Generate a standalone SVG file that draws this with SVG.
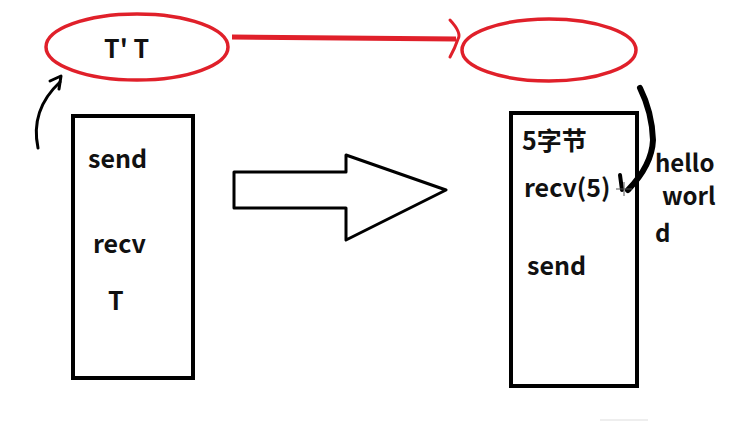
<svg xmlns="http://www.w3.org/2000/svg" width="738" height="422" viewBox="0 0 738 422">
<style>
text{font-family:"Noto Sans CJK SC","Noto Sans",sans-serif;font-weight:bold;font-size:25px;fill:#111}
.red{fill:none;stroke:#e0202a;stroke-width:3.5}
.box{fill:#fff;stroke:#000;stroke-width:4}
.ink{fill:none;stroke:#000;stroke-linecap:round;stroke-linejoin:round}
</style>
<rect width="738" height="422" fill="#fff"/>
<g id="bufferLeft">
<ellipse class="red" cx="137" cy="47" rx="91" ry="33"/>
<text x="104" y="58">T' T</text>
</g>
<g id="bufferRight">
<ellipse class="red" cx="549" cy="50" rx="87" ry="31"/>
</g>
<g id="clientLeft">
<rect class="box" x="73" y="116" width="120" height="262"/>
<text x="88" y="168">send</text>
<text x="93" y="253">recv</text>
<text x="108" y="310">T</text>
</g>
<g id="clientRight">
<rect class="box" x="511" y="113" width="126" height="273"/>
<text x="522" y="150">5字节</text>
<text x="524" y="197">recv(5)</text>
<text x="527" y="275">send</text>
</g>
<g id="data" style="font-size:24px">
<text x="655" y="172" style="font-size:24px">hello</text>
<text x="662" y="205" style="font-size:24px">worl</text>
<text x="655" y="242" style="font-size:24px">d</text>
</g>
<g id="connectors">
<path d="M232 37 L456 39" stroke="#e0202a" stroke-width="5" fill="none"/>
<path class="ink" d="M450 20 Q462 33 458 39 Q455 48 450 57" stroke="#e0202a" stroke-width="3" style="stroke:#e0202a"/>
<path class="ink" stroke-width="3" d="M38 148 Q30 110 60 82"/>
<path class="ink" stroke-width="3" d="M50 81 L61 76 L59 89"/>
<path class="ink" d="M234 172 H346 V155 L446 190 L346 240 V208 H234 Z" stroke-width="3" style="fill:#fff"/>
<path class="ink" stroke-width="6" d="M640 88 Q652 112 653 140 Q652 165 628 190"/>
<path class="ink" stroke-width="4" d="M620 175 L622 190"/>
<path d="M616 189 H632 M624 182 V196" stroke="#555" stroke-width="1"/>
</g>
<path d="M600 420 H648" stroke="#ddd" stroke-width="1"/>
</svg>
